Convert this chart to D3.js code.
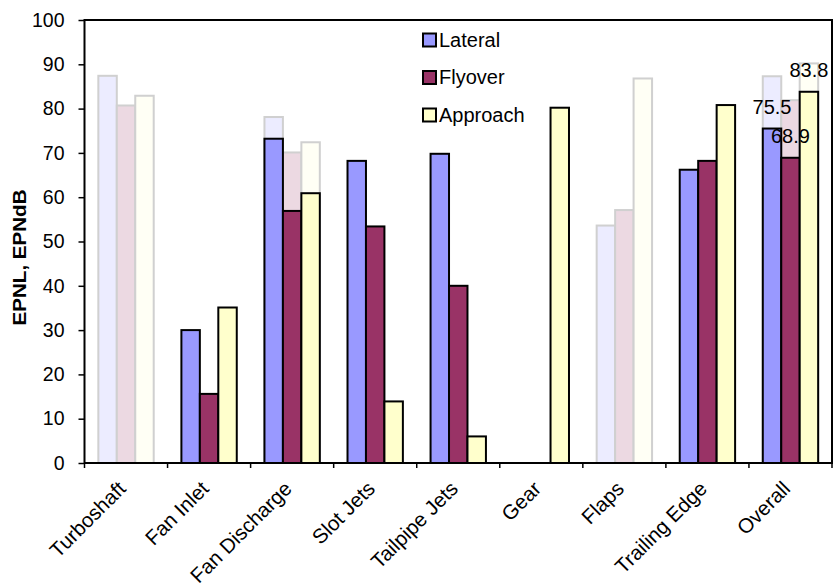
<!DOCTYPE html>
<html lang="en">
  <head>
    <title>EPNL by source</title>
    <script src="https://d3js.org/d3.v7.min.js"></script>
    <style>
      body { margin: 0; background: #fff; }
      text { font-family: 'Liberation Sans', Arial, sans-serif; fill: #000; }
    </style>
  </head>

  <body>
    <div id='chart'></div>

    <script type='text/javascript'>
      // categories along the bottom
      let categories = ['Turboshaft', 'Fan Inlet', 'Fan Discharge', 'Slot Jets', 'Tailpipe Jets',
                        'Gear', 'Flaps', 'Trailing Edge', 'Overall'];
      let seriesNames = ['Lateral', 'Flyover', 'Approach'];

      // solid bars (null = no bar)
      let lateral  = [null, 30.0, 73.2, 68.2, 69.8, null, null, 66.2, 75.5];
      let flyover  = [null, 15.6, 56.9, 53.4, 40.0, null, null, 68.2, 68.9];
      let approach = [null, 35.1, 60.9, 13.9,  6.0, 80.2, null, 80.8, 83.8];

      // faded (ghost) bars behind
      let fadedLateral  = [87.4, null, 78.1, null, null, null, 53.6, null, 87.3];
      let fadedFlyover  = [80.7, null, 70.1, null, null, null, 57.1, null, 81.9];
      let fadedApproach = [82.9, null, 72.4, null, null, null, 86.8, null, 90.2];

      // labelled values (only on Overall)
      let labelled = ['Overall'];

      let yTicks = [0, 10, 20, 30, 40, 50, 60, 70, 80, 90, 100];
      let colors = ['#9999ff', '#993366', '#ffffcc'];

      let margin = {top: 20, right: 2, bottom: 125, left: 84.5};
      let W = 834, H = 588;
      let width = W - margin.left - margin.right;
      let height = H - margin.top - margin.bottom;

      let svg = d3.select('#chart').append('svg')
        .attr('width', W)
        .attr('height', H);
      let canvas = svg.append('g')
        .attr('transform', 'translate(' + margin.left + ',' + margin.top + ')');

      let x = d3.scaleBand().domain(categories).range([0, width]).padding(0);
      let xs = d3.scaleBand().domain(seriesNames).range([0, x.bandwidth()])
        .paddingInner(0).paddingOuter(0.75);
      let y = d3.scaleLinear().domain([0, 100]).range([height, 0]);

      function rows(vals) {
        return categories.map((c, i) => ({cat: c, v: vals[i]}));
      }

      function drawSeries(g, vals, si, stroke) {
        g.selectAll('rect.s' + si)
          .data(rows(vals).filter(d => d.v != null))
          .enter().append('rect')
          .attr('class', 's' + si)
          .attr('x', d => x(d.cat) + xs(seriesNames[si]))
          .attr('y', d => y(d.v))
          .attr('width', xs.bandwidth())
          .attr('height', d => y(0) - y(d.v))
          .attr('fill', colors[si])
          .attr('stroke', stroke)
          .attr('stroke-width', 2);
      }

      // ghost bars first
      let ghost = canvas.append('g').attr('opacity', 0.18);
      [fadedLateral, fadedFlyover, fadedApproach].forEach((s, i) => drawSeries(ghost, s, i, '#000'));

      let solid = canvas.append('g');
      [lateral, flyover, approach].forEach((s, i) => drawSeries(solid, s, i, '#000'));

      // value labels
      [lateral, flyover, approach].forEach((s, si) => {
        canvas.append('g').selectAll('text')
          .data(rows(s).filter(d => d.v != null && labelled.includes(d.cat)))
          .enter().append('text')
          .attr('x', d => x(d.cat) + xs(seriesNames[si]) + xs.bandwidth() / 2)
          .attr('y', d => y(d.v) - 14.5)
          .attr('text-anchor', 'middle')
          .attr('font-size', '20px')
          .text(d => d.v.toFixed(1));
      });

      // y axis
      let yAxis = canvas.append('g')
        .call(d3.axisLeft(y).tickValues(yTicks).tickSize(6).tickPadding(14));
      yAxis.select('.domain').remove();
      yAxis.selectAll('line').attr('stroke', '#000').attr('stroke-width', 1.5);
      yAxis.selectAll('text').attr('font-size', '19.5px').attr('font-family', "'Liberation Sans', Arial, sans-serif");

      // x ticks at category boundaries
      let bounds = categories.map(c => x(c)).concat([width]);
      canvas.append('g').selectAll('line')
        .data(bounds)
        .enter().append('line')
        .attr('x1', d => d).attr('x2', d => d)
        .attr('y1', height).attr('y2', height + 5)
        .attr('stroke', '#000')
        .attr('stroke-width', 1.5);

      // x labels rotated
      canvas.append('g').selectAll('text')
        .data(categories)
        .enter().append('text')
        .attr('transform', d => 'translate(' + (x(d) + x.bandwidth() / 2 + 1) + ',' + (height + 27) + ') rotate(-45)')
        .attr('text-anchor', 'end')
        .attr('font-size', '20.5px')
        .text(d => d);

      // plot frame
      canvas.append('rect')
        .attr('x', 0).attr('y', 0)
        .attr('width', width).attr('height', height)
        .attr('fill', 'none')
        .attr('stroke', '#000')
        .attr('stroke-width', 2);

      // y title, stretched along its length like the original
      let title = svg.append('text')
        .attr('text-anchor', 'middle')
        .attr('font-size', '18.5px')
        .attr('font-weight', 'bold')
        .text('EPNL, EPNdB');
      let stretch = 136 / title.node().getComputedTextLength();
      title.attr('transform', 'translate(26,' + (margin.top + y(46.4)) + ') rotate(-90) scale(' + stretch + ',1)');

      // legend
      let legend = svg.append('g')
        .attr('transform', 'translate(423,33.5)');
      let item = legend.selectAll('g')
        .data(seriesNames)
        .enter().append('g')
        .attr('transform', (d, i) => 'translate(0,' + i * 37.5 + ')');
      item.append('rect')
        .attr('width', 13).attr('height', 13)
        .attr('fill', (d, i) => colors[i])
        .attr('stroke', '#000')
        .attr('stroke-width', 2);
      item.append('text')
        .attr('x', 16)
        .attr('y', 13.3)
        .attr('font-size', '20px')
        .text(d => d);
    </script>
  </body>
</html>
